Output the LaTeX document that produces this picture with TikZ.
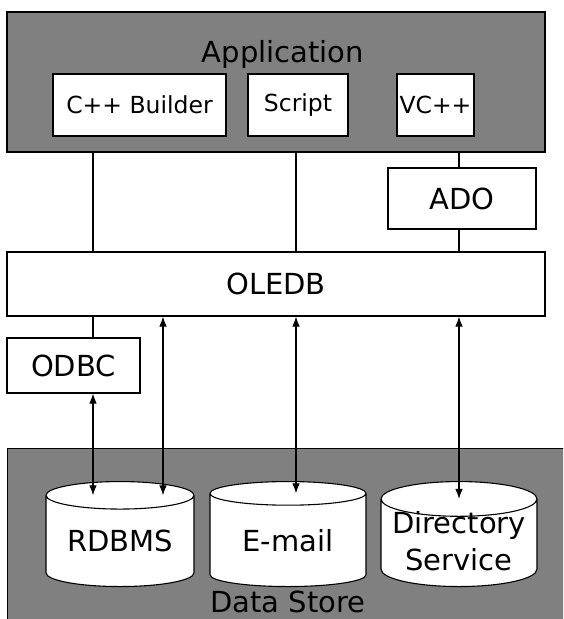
\documentclass[tikz,border=0pt]{standalone}
\usepackage{fontspec}
\setmainfont{DejaVu Sans}
\usetikzlibrary{shapes.geometric, arrows.meta}

\begin{document}
\begin{tikzpicture}[x=1pt, y=-1pt,
			>={Latex[length=10pt,width=7.5pt]},   %Voreinstellung für Pfeilspitzen
			line width=1.1pt, font=\fontsize{29}{37}\selectfont,
			layer/.style={draw, fill=black!50, inner sep=0pt},
			box/.style={draw, fill=white, inner sep=0pt},
			appbox/.style={box, minimum height=62pt, font=\fontsize{23.5}{28}\selectfont},
			store/.style={cylinder, shape border rotate=90, draw, fill=white, aspect=0.26, minimum height=105pt, anchor=north, inner sep=0pt}]
			\clip (0,0) rectangle (563,619);
			%Schichten zeichnen
			\node[layer, minimum width=538pt, minimum height=140pt] (app) at (276,82) {};
			\node[anchor=base] (apptitle) at (283,62) {Application};
			\node[layer, anchor=north west, minimum width=600pt, minimum height=200pt] (ds) at (7,448) {};
			\node[anchor=base] (dstitle) at (288,612) {Data Store};
			% Kästen
			\node[appbox, minimum width=173pt] (cpp) at (139.5,105) {C++ Builder};
			\node[appbox, minimum width=100pt] (script) at (298,105) {Script};
			\node[appbox, minimum width=77pt] (vc) at (435.5,105) {VC++};
			\node[box, minimum width=148pt, minimum height=61pt] (ado) at (462,198.5) {ADO};
			\node[box, minimum width=538pt, minimum height=64pt] (oledb) at (276,284) {OLEDB};
			\node[box, minimum width=133pt, minimum height=55pt] (odbc) at (73.5,365.5) {ODBC};
			% Datenbanken
			\node[store, minimum width=148pt] (rdbms) at (120,481) {\phantom{RDBMS}};
			\node[store, minimum width=156pt] (email) at (288,481) {\phantom{E-mail}};
			\node[store, minimum width=156pt] (dir) at (459,481) {\phantom{Directory}};
			\node (rdbmstext) at (120,541) {RDBMS};
			\node (emailtext) at (288,541) {E-mail};
			\node[align=center] (dirtext) at (459,541) {Directory\\Service};
			% Spalten
			\coordinate (c1) at (93,0);
			\coordinate (c2) at (163,0);
			\coordinate (c3) at (296,0);
			\coordinate (c4) at (459,0);
			% Verbindungen
			\draw (app.south -| c1) -- (oledb.north -| c1);
			\draw (app.south -| c3) -- (oledb.north -| c3);
			\draw (app.south -| c4) -- (ado.north -| c4);
			\draw (ado.south -| c4) -- (oledb.north -| c4);
			\draw (oledb.south -| c1) -- (odbc.north -| c1);
			\draw[<->] (odbc.south -| c1) -- (rdbms.before top -| c1);
			\foreach \c/\n in {c2/rdbms, c3/email, c4/dir} \draw[<->] (oledb.south -| \c) -- (\n.before top -| \c);
		\end{tikzpicture}
\end{document}
